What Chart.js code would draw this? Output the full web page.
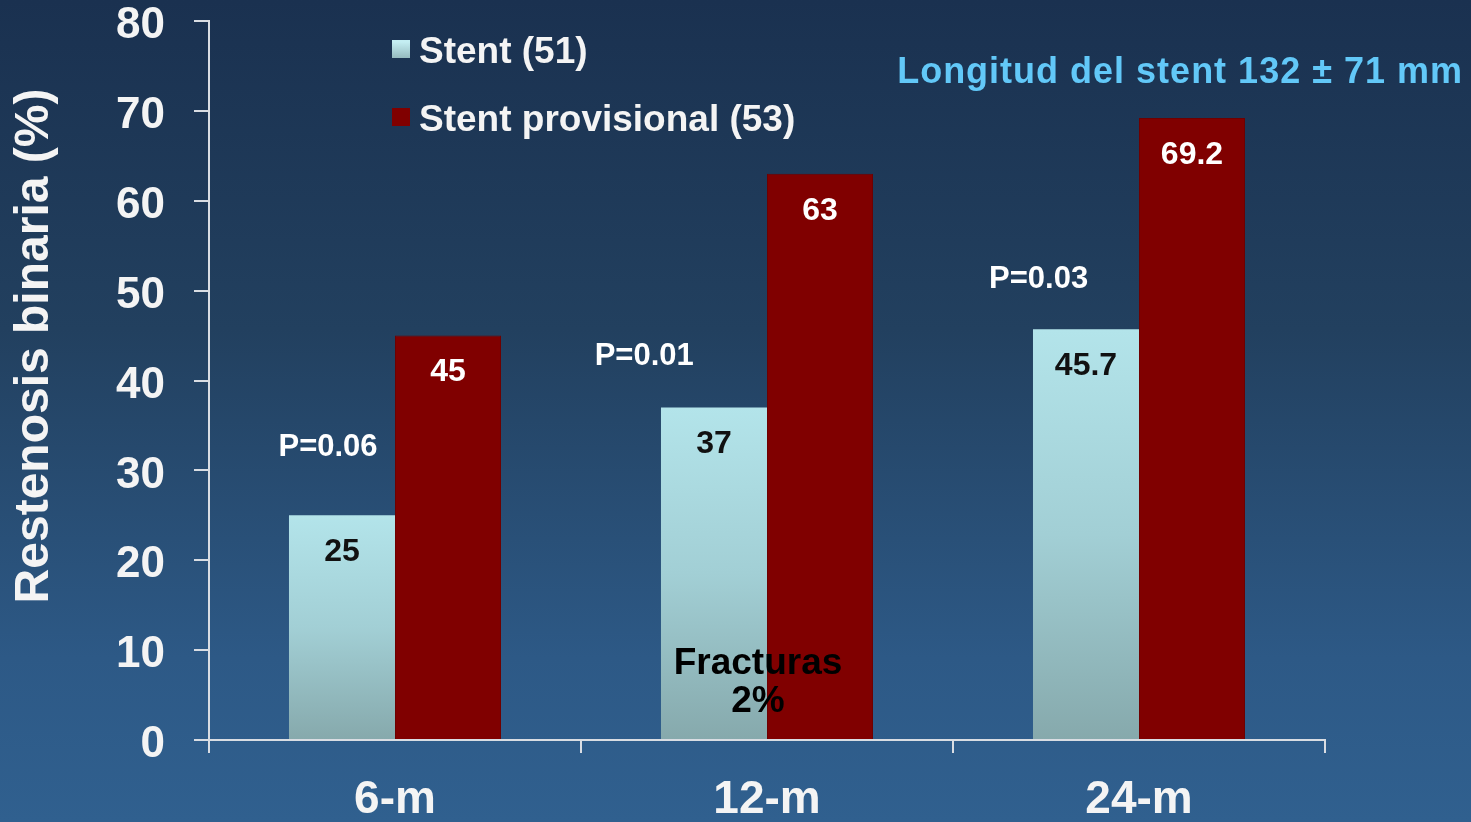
<!DOCTYPE html>
<html>
<head>
<meta charset="utf-8">
<script src="https://cdn.jsdelivr.net/npm/chart.js@4.4.1/dist/chart.umd.min.js"></script>
<style>
  html, body { margin: 0; padding: 0; }
  body {
    width: 1471px; height: 822px; overflow: hidden;
    background: linear-gradient(to bottom, #1a3150 0%, #22405f 40%, #2d5986 80%, #30608f 100%);
  }
  #wrap { position: relative; width: 1471px; height: 822px; }
</style>
</head>
<body>
<div id="wrap"><canvas id="c" width="1471" height="822"></canvas></div>
<script>
// Follow-up time points
const categories = ['6-m', '12-m', '24-m'];
// Binary restenosis (%) per arm
const stentValues = [25, 37, 45.7];
const provisionalValues = [45, 63, 69.2];
const seriesLabels = ['Stent (51)', 'Stent provisional (53)'];
// p-values shown above each pair
const pValues = ['P=0.06', 'P=0.01', 'P=0.03'];
const yTicks = [0, 10, 20, 30, 40, 50, 60, 70, 80];

const FONT = '"Liberation Sans", Arial, sans-serif';
const AXIS_COLOR = '#d9dde3';

// Label placement for the p-values: [x offset in category widths, y in %]
const pPlacement = [[-0.18, 32.6], [-0.33, 42.7], [-0.27, 51.2]];

function stentGradient(ctx) {
  const chart = ctx.chart;
  if (!chart.chartArea || ctx.raw === undefined) return '#a9d9de';
  const y = chart.scales.y;
  const top = y.getPixelForValue(ctx.raw);
  const base = y.getPixelForValue(0);
  const g = chart.ctx.createLinearGradient(0, top, 0, base);
  g.addColorStop(0, '#b3e4ea');
  g.addColorStop(0.5, '#a2cfd5');
  g.addColorStop(1, '#86a9ac');
  return g;
}

const overlay = {
  id: 'overlay',
  afterDatasetsDraw(chart) {
    const { ctx, scales: { x, y } } = chart;
    ctx.save();
    ctx.textAlign = 'center';
    ctx.textBaseline = 'middle';

    // values inside bars
    chart.data.datasets.forEach((ds, di) => {
      const meta = chart.getDatasetMeta(di);
      meta.data.forEach((bar, i) => {
        ctx.font = 'bold 32px ' + FONT;
        ctx.fillStyle = di === 0 ? '#111111' : '#ffffff';
        ctx.fillText(String(ds.data[i]), bar.x, bar.y + 37);
      });
    });

    // p-values
    ctx.font = 'bold 31px ' + FONT;
    ctx.fillStyle = '#ffffff';
    pValues.forEach((p, i) => {
      const cw = x.getPixelForValue(1) - x.getPixelForValue(0);
      const px = x.getPixelForValue(i) + pPlacement[i][0] * cw;
      ctx.fillText(p, px, y.getPixelForValue(pPlacement[i][1]));
    });

    // fracture note on the 12-m pair
    ctx.font = 'bold 37px ' + FONT;
    ctx.fillStyle = '#000000';
    const fx = x.getPixelForValue(1) - 9;
    ctx.fillText('Fracturas', fx, y.getPixelForValue(8.5));
    ctx.fillText('2%', fx, y.getPixelForValue(4.2));

    // legend
    const legendX = 392, legendRows = [51, 119];
    chart.data.datasets.forEach((ds, di) => {
      const ry = legendRows[di];
      if (di === 0) {
        const g = ctx.createLinearGradient(0, ry - 9, 0, ry + 9);
        g.addColorStop(0, '#c4eef2'); g.addColorStop(1, '#8fb4b8');
        ctx.fillStyle = g;
      } else {
        ctx.fillStyle = '#800000';
      }
      ctx.fillRect(legendX, ry - 11, 18, 18);
      ctx.font = 'bold 37px ' + FONT;
      ctx.fillStyle = '#f4f4f4';
      ctx.textAlign = 'left';
      ctx.fillText(ds.label, legendX + 27, ry + 2);
    });

    // stent length note
    ctx.font = 'bold 36px ' + FONT;
    ctx.letterSpacing = '1px';
    ctx.fillStyle = '#62c8f8';
    ctx.textAlign = 'right';
    ctx.fillText('Longitud del stent 132 \u00b1 71 mm', 1463, 73);
    ctx.letterSpacing = '0px';

    // y axis title
    ctx.translate(35, 346);
    ctx.rotate(-Math.PI / 2);
    ctx.textAlign = 'center';
    ctx.font = 'bold 48px ' + FONT;
    ctx.fillStyle = '#f4f4f4';
    ctx.fillText('Restenosis binaria (%)', 0, 0);
    ctx.restore();
  }
};

new Chart(document.getElementById('c'), {
  type: 'bar',
  data: {
    labels: categories,
    datasets: [
      { label: seriesLabels[0], data: stentValues, backgroundColor: stentGradient, borderWidth: 0 },
      { label: seriesLabels[1], data: provisionalValues, backgroundColor: '#800000', borderColor: '#6e0000', borderWidth: 1 }
    ]
  },
  options: {
    responsive: false,
    animation: false,
    devicePixelRatio: 1,
    layout: { padding: { left: 0, top: 21, right: 146, bottom: 0 } },
    plugins: { legend: { display: false }, tooltip: { enabled: false } },
    datasets: { bar: { categoryPercentage: 0.57, barPercentage: 1 } },
    scales: {
      x: {
        grid: { display: true, drawOnChartArea: false, drawTicks: true, tickLength: 13, color: AXIS_COLOR, lineWidth: 2, offset: true },
        border: { display: true, color: AXIS_COLOR, width: 2 },
        ticks: { color: '#f4f4f4', font: { family: FONT, size: 46, weight: 'bold' }, padding: 20 },
        afterFit(scale) { scale.height = 82; scale.paddingLeft = 0; scale.paddingRight = 0; }
      },
      y: {
        min: 0, max: 80,
        afterBuildTicks(scale) { scale.ticks = yTicks.map(v => ({ value: v })); },
        grid: { display: true, drawOnChartArea: false, drawTicks: true, tickLength: 15, color: AXIS_COLOR, lineWidth: 2 },
        border: { display: true, color: AXIS_COLOR, width: 2 },
        ticks: { color: '#f4f4f4', font: { family: FONT, size: 44, weight: 'bold' }, padding: 29, labelOffset: 5 },
        afterFit(scale) { scale.width = 209; scale.paddingTop = 0; scale.paddingBottom = 0; }
      }
    }
  },
  plugins: [overlay]
});
</script>
</body>
</html>
